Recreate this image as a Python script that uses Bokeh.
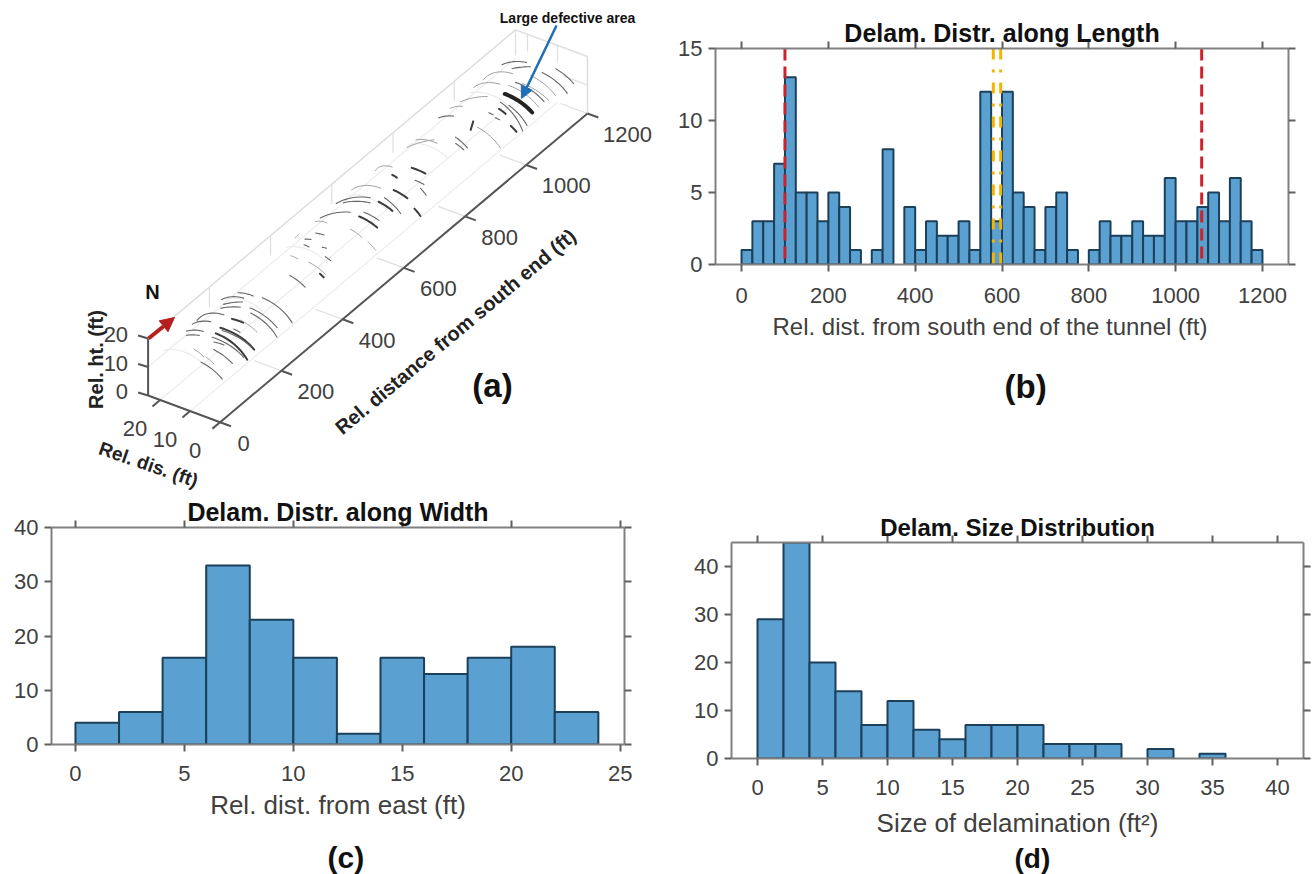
import math
from bokeh.embed import file_html
from bokeh.resources import INLINE
from bokeh.plotting import figure
from bokeh.layouts import column, row
from bokeh.models import Range1d, LinearAxis, FixedTicker, Label, Arrow, NormalHead, Title
from bokeh.core.properties import value

# ---- panel (b): delamination count per 25 ft along the tunnel
length_edges = list(range(0, 1225, 25))
length_counts = [1, 3, 3, 7, 13, 5, 5, 3, 5, 4, 1, 0, 1, 8, 0, 4, 1, 3, 2, 2, 3, 1, 12, 3,
                 12, 5, 4, 1, 4, 5, 1, 0, 1, 3, 2, 2, 3, 2, 2, 6, 3, 3, 4, 5, 3, 6, 3, 1]
red_positions = [100, 1060]
yellow_positions = [580, 597]
length_xticks = [0, 200, 400, 600, 800, 1000, 1200]
length_yticks = [0, 5, 10, 15]

# ---- panel (c): count per 2 ft across the tunnel
width_edges = list(range(0, 26, 2))
width_counts = [4, 6, 16, 33, 23, 16, 2, 16, 13, 16, 18, 6]
width_xticks = [0, 5, 10, 15, 20, 25]
width_yticks = [0, 10, 20, 30, 40]

# ---- panel (d): size histogram
size_edges = list(range(0, 38, 2))
size_counts = [29, 45, 20, 14, 7, 12, 6, 4, 7, 7, 7, 3, 3, 3, 0, 2, 0, 1]
size_xticks = [0, 5, 10, 15, 20, 25, 30, 35, 40]
size_yticks = [0, 10, 20, 30, 40]

# ---- panel (a): delaminations: distance (ft) and arch angle (deg) at both ends, weight
seg_d1 = [220, 227, 187, 177, 205, 193, 177, 140, 110, 75, 60, 138, 118, 102, 83, 69, 98, 147, 61, 45, 0, 15, 18,
          543, 602, 589, 638, 710, 822, 816, 543, 559, 603, 620, 650, 725, 703, 698, 656, 512, 503, 371, 368, 315,
          408, 423, 431, 455, 408, 493, 365, 465, 686,
          1019, 1060, 1067, 1120, 1150, 1002, 995, 973, 979, 956, 955, 1123, 1116, 1079, 1038, 992, 945, 908,
          892, 854, 841, 908, 1044, 1096]
seg_t1 = [87, 76, 76, 70, 95, 91, 87, 95, 101, 96, 95, 81, 68, 82, 80, 79, 77, 71, 72, 64, 62, 65, 63,
          90, 87, 81, 88, 105, 93, 85, 76, 76, 74, 73, 73, 81, 64, 51, 35, 41, 70, 72, 50, 75,
          63, 76, 98, 89, 90, 103, 87, 140, 93,
          76, 79, 71, 65, 57, 60, 71, 37, 65, 59, 70, 92, 83, 93, 93, 91, 108, 104,
          68, 74, 67, 65, 82, 72]
seg_d2 = [220, 244, 203, 193, 205, 175, 160, 144, 110, 75, 55, 146, 122, 125, 98, 92, 121, 154, 71, 59, 18, 18, 20,
          517, 577, 570, 637, 726, 787, 816, 552, 567, 608, 620, 657, 733, 711, 699, 662, 519, 507, 378, 370, 318,
          410, 427, 429, 454, 410, 504, 367, 465, 683,
          1037, 1077, 1089, 1141, 1166, 1011, 995, 979, 981, 960, 958, 1114, 1094, 1079, 1036, 965, 945, 907,
          914, 853, 843, 924, 1058, 1110]
seg_t2 = [112, 22, 31, 20, 135, 113, 110, 150, 135, 125, 114, 66, 59, 28, 23, 29, 34, 44, 60, 33, 25, 83, 49,
          128, 133, 115, 140, 150, 120, 120, 48, 54, 52, 42, 52, 62, 52, 39, 21, 25, 51, 45, 43, 49,
          54, 71, 107, 102, 99, 130, 99, 150, 84,
          32, 33, 30, 20, 25, 22, 20, 25, 54, 53, 64, 130, 101, 150, 140, 122, 130, 130,
          75, 52, 53, 22, 32, 29]
seg_kind = [1, 1, 1, 1, 1, 1, 1, 1, 1, 1, 1, 2, 1, 2, 2, 1, 1, 0, 1, 1, 1, 0, 0,
            1, 1, 1, 0, 0, 0, 0, 2, 1, 2, 1, 2, 2, 1, 1, 2, 0, 0, 0, 2, 1,
            1, 1, 1, 1, 1, 0, 0, 0, 2,
            3, 1, 0, 1, 1, 1, 1, 2, 2, 1, 1, 1, 1, 0, 0, 0, 0, 1,
            2, 1, 1, 0, 0, 0]

dist_ticks = [0, 200, 400, 600, 800, 1000, 1200]
side_ticks = [0, 10, 20]
height_ticks = [0, 10, 20]

FONT = "Liberation Sans"
TXT = "#404040"
FILL = "#5aa0d0"
EDGE = "#1c3f5a"
AX = "#808080"
SPEC_KIND = {0: ("#a0a0a0", 1.0), 1: ("#666666", 1.1), 2: ("#3c3c3c", 2.0), 3: ("#222222", 4.0)}


def project(d, w, z):
    return (219.6 + 0.30617 * d - 3.0 * w, 421.7 - 0.25725 * d - 1.11 * w - 2.85 * z)


def arch(th):
    t = math.radians(th)
    return 12 * (1 - math.cos(t)), 8 + 12 * math.sin(t)


def arc_xy(d1, t1, d2, t2, n=10):
    xs, ys = [], []
    for i in range(n + 1):
        f = i / n
        w, z = arch(t1 + (t2 - t1) * f)
        x, y = project(d1 + (d2 - d1) * f, w, z)
        xs.append(x)
        ys.append(y)
    return xs, ys


def plabel(fig, text, x, y, size="30px", bold=True, color="#111111", angle=0.0):
    fig.add_layout(Label(x=x, y=y, text=text, text_font=FONT, text_font_size=size,
                         text_font_style="bold" if bold else "normal", text_color=color,
                         text_align="center", text_baseline="middle", angle=angle, angle_units="deg"))


def below_title(p, text, size, bold, offset, standoff, color):
    p.add_layout(Title(text=text, align="left", offset=offset, standoff=standoff, text_font=FONT,
                       text_font_size=size, text_font_style="bold" if bold else "normal",
                       text_color=color), "below")


def hist(width, height, xr, yr, edges, counts, xticks, yticks, title, title_size, xlabel, b, tick_off, lab_off):
    l, r, t, bt = b
    p = figure(width=width, height=height, x_range=Range1d(*xr), y_range=Range1d(*yr),
               toolbar_location=None, output_backend="svg", frame_align=False,
               min_border_left=l, min_border_right=r, min_border_top=t, min_border_bottom=bt)
    p.grid.visible = False
    p.outline_line_color = None
    lefts = [a for a, c in zip(edges[:-1], counts) if c > 0]
    rights = [a for a, c in zip(edges[1:], counts) if c > 0]
    tops = [c for c in counts if c > 0]
    p.quad(left=lefts, right=rights, top=tops, bottom=0, fill_color=FILL, line_color=EDGE, line_width=2)
    for ax, ticks in ((p.xaxis[0], xticks), (p.yaxis[0], yticks)):
        ax.ticker = FixedTicker(ticks=ticks)
        ax.axis_line_color = AX
        ax.axis_line_width = 2
        ax.major_tick_line_color = "#606060"
        ax.major_tick_line_width = 2
        ax.major_tick_out = 7
        ax.major_tick_in = 0
        ax.minor_tick_line_color = None
        ax.major_label_text_font = FONT
        ax.major_label_text_font_size = "22px"
        ax.major_label_text_color = TXT
    p.xaxis[0].major_label_standoff = tick_off
    p.yaxis[0].major_label_standoff = 6
    if xlabel:
        p.xaxis[0].axis_label = xlabel
        p.xaxis[0].axis_label_text_font = FONT
        p.xaxis[0].axis_label_text_font_size = "26px"
        p.xaxis[0].axis_label_text_font_style = "normal"
        p.xaxis[0].axis_label_text_color = TXT
        p.xaxis[0].axis_label_standoff = lab_off
    p.add_layout(LinearAxis(ticker=FixedTicker(ticks=xticks), major_label_overrides={v: "" for v in xticks},
                            axis_line_color=AX, axis_line_width=2, major_tick_line_color="#606060",
                            major_tick_line_width=2, major_tick_out=7, major_tick_in=0,
                            minor_tick_line_color=None, major_label_standoff=0,
                            major_label_text_font_size="1px"), "above")
    p.add_layout(LinearAxis(ticker=FixedTicker(ticks=yticks), major_label_overrides={v: "" for v in yticks},
                            axis_line_color=AX, axis_line_width=2, major_tick_line_color="#606060",
                            major_tick_line_width=2, major_tick_out=7, major_tick_in=0,
                            minor_tick_line_color=None, major_label_standoff=0,
                            major_label_text_font_size="1px"), "right")
    p.title.text = title
    p.title.align = "center"
    p.title.text_font = FONT
    p.title.text_font_size = title_size
    p.title.text_font_style = "bold"
    p.title.text_color = "#111111"
    p.title.standoff = -11
    return p


# ---------------- (a)
a = figure(width=668, height=490, x_range=Range1d(0, 668), y_range=Range1d(490, 0),
           toolbar_location=None, output_backend="svg", frame_align=False,
           min_border_left=0, min_border_right=0, min_border_top=0, min_border_bottom=0)
a.axis.visible = False
a.grid.visible = False
a.outline_line_color = None

GRID = "#dedede"
FAINT = "#ececec"


def gline(p0, p1, color=GRID, lw=1.2):
    x0, y0 = project(*p0)
    x1, y1 = project(*p1)
    a.line([x0, x1], [y0, y1], line_color=color, line_width=lw)


for w in side_ticks[1:]:
    gline((0, w, 0), (1200, w, 0), FAINT)
for z in (10,):
    gline((0, 24, z), (1200, 24, z), FAINT)
for d in dist_ticks:
    gline((d, 0, 0), (d, 24 if d == 0 else 9, 0), GRID)
    if 0 < d < 1200:
        gline((d, 24, 13), (d, 24, 20), GRID)
gline((0, 24, 0), (0, 24, 20), "#555555", 2)
gline((0, 24, 20), (1200, 24, 20), GRID, 1.5)
gline((1200, 24, 20), (1200, 0, 20), GRID, 1.5)
gline((1200, 0, 20), (1200, 0, 0), GRID, 1.5)
gline((1200, 24, 20), (1200, 24, 11), GRID)
for w in side_ticks[1:]:
    gline((1200, w, 20), (1200, w, 14), GRID)
gline((1200, 0, 10), (1200, 8, 10), GRID)

# light cross-section guide arcs
for d in dist_ticks[:-1]:
    xs, ys = arc_xy(d, 60, d, 125)
    a.line(xs, ys, line_color=FAINT, line_width=1.2)

for d1, t1, d2, t2, k in zip(seg_d1, seg_t1, seg_d2, seg_t2, seg_kind):
    xs, ys = arc_xy(d1, t1, d2, t2)
    col, lw = SPEC_KIND[k]
    a.line(xs, ys, line_color=col, line_width=lw, line_cap="round")

# box axes
gline((0, 0, 0), (1200, 0, 0), "#555555", 2)
gline((0, 0, 0), (0, 24, 0), "#555555", 2)
for d in dist_ticks:
    gline((d, 0, 0), (d, -3.6, 0), "#555555", 2)
for w in side_ticks:
    gline((0, w, 0), (-25, w, 0), "#555555", 2)
for z in height_ticks:
    x0, y0 = project(0, 24, z)
    a.line([x0, x0 - 10], [y0, y0 - 3], line_color="#555555", line_width=2)

for d in dist_ticks:
    s = str(d)
    x, y = project(d, 0, 0)
    a.text([x + 18 + 5.5 * len(s)], [y + 21], text=[s], text_font=value(FONT), text_font_size="22px",
           text_color=TXT, text_align="center", text_baseline="middle")
for w in side_ticks:
    x, y = project(0, w, 0)
    a.text([x - 25], [y + 28], text=[str(w)], text_font=value(FONT), text_font_size="22px",
           text_color=TXT, text_align="center", text_baseline="middle")
for z in height_ticks:
    x, y = project(0, 24, z)
    a.text([x - 20], [y - 4], text=[str(z)], text_font=value(FONT), text_font_size="22px",
           text_color=TXT, text_align="right", text_baseline="middle")

plabel(a, "Rel. distance from south end (ft)", 455, 331, "20px", True, "#222222", 40)
plabel(a, "Rel. ht. (ft)", 95, 359, "20px", True, "#222222", 90)
plabel(a, "Rel. dis. (ft)", 148, 464, "19px", True, "#222222", -19)
plabel(a, "N", 152, 291, "20px", True, "#111111")
plabel(a, "Large defective area", 567, 17, "14px", True, "#111111")
plabel(a, "(a)", 492, 385, "33px")
a.add_layout(Arrow(end=NormalHead(size=14, fill_color="#b5201f", line_color="#b5201f"),
                   x_start=148, y_start=338, x_end=174, y_end=317, line_color="#b5201f", line_width=4))
a.add_layout(Arrow(end=NormalHead(size=12, fill_color="#1f6fb5", line_color="#1f6fb5"),
                   x_start=556, y_start=25, x_end=521, y_end=98, line_color="#1f6fb5", line_width=2.5))

# ---------------- (b)
b = hist(644, 490, (-60, 1260), (0, 15), length_edges, length_counts, length_xticks, length_yticks,
         "Delam. Distr. along Length", "25px", None,
         (47, 24, 48, 226), 16, 6)
below_title(b, "Rel. dist. from south end of the tunnel (ft)", "24px", False, 57, 11, TXT)
below_title(b, "(b)", "33px", True, 289, 40, "#111111")
b.segment(x0=red_positions, x1=red_positions, y0=15, y1=0, line_color="#d0202a", line_width=3, line_dash="12 6")
b.segment(x0=yellow_positions, x1=yellow_positions, y0=15, y1=0, line_color="#f5b400", line_width=3,
          line_dash="11 10 3 10")

# ---------------- (c)
c = hist(668, 384, (-1.1, 25.2), (0, 40), width_edges, width_counts, width_xticks, width_yticks,
         "Delam. Distr. along Width", "25px", "Rel. dist. from east (ft)", (51, 44, 37, 130), 14, 6)
below_title(c, " ", "1px", False, 0, 12, "#ffffff")
below_title(c, "(c)", "30px", True, 276, 2, "#111111")

# ---------------- (d)
d_fig = hist(644, 384, (-2, 42), (0, 45), size_edges, size_counts, size_xticks, size_yticks,
             "Delam. Size Distribution", "24px", "Size of delamination (ft\u00b2)", (63, 9, 52, 116), 14, 10)
below_title(d_fig, "(d)", "28px", True, 283, 0, "#111111")

page = column(row(a, b, spacing=0), row(c, d_fig, spacing=0), spacing=0)
open("out.html", "w").write(file_html(page, INLINE))
